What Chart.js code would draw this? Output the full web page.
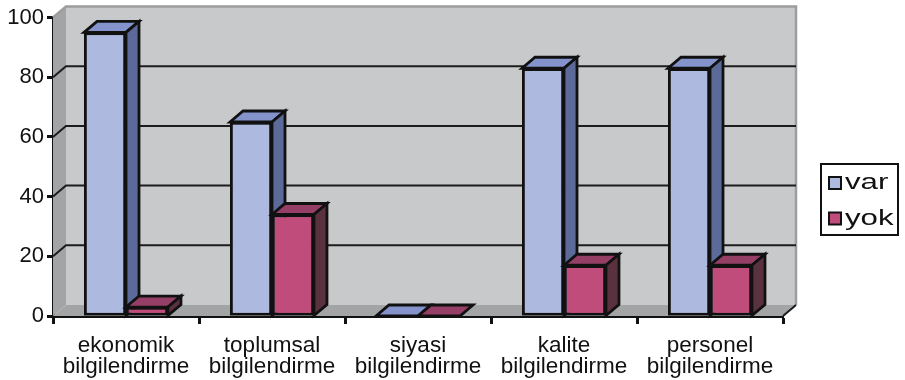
<!DOCTYPE html>
<html>
<head>
<meta charset="utf-8">
<script src="https://cdn.jsdelivr.net/npm/chart.js@4.4.1/dist/chart.umd.min.js"></script>
<style>
  html, body { margin: 0; padding: 0; background: #ffffff; }
  canvas { display: block; }
</style>
</head>
<body>
<canvas id="c" width="905" height="380"></canvas>
<script>
// Categories (two-line labels), series values and value-axis ticks
const categories = [
  ['ekonomik', 'bilgilendirme'],
  ['toplumsal', 'bilgilendirme'],
  ['siyasi', 'bilgilendirme'],
  ['kalite', 'bilgilendirme'],
  ['personel', 'bilgilendirme']
];
const seriesNames = ['var', 'yok'];
const varValues = [95, 65, 0, 83, 83];
const yokValues = [3, 34, 0, 17, 17];
const yTicks = [0, 20, 40, 60, 80, 100];

const FONT = '"Liberation Sans", Arial, Helvetica, sans-serif';
const DX = 13, DY = -11;           // depth offset of the 3D box
const palette = [
  { front: '#adb9de', top: '#8493cb', side: '#5c6a99' },
  { front: '#c04c7c', top: '#963f66', side: '#5a323f' }
];

function poly(ctx, pts, fill, stroke, lw) {
  ctx.beginPath();
  ctx.moveTo(pts[0][0], pts[0][1]);
  for (let i = 1; i < pts.length; i++) ctx.lineTo(pts[i][0], pts[i][1]);
  ctx.closePath();
  if (fill) { ctx.fillStyle = fill; ctx.fill(); }
  if (stroke) { ctx.strokeStyle = stroke; ctx.lineWidth = lw; ctx.lineJoin = 'miter'; ctx.stroke(); }
}

const box3d = {
  id: 'box3d',
  beforeDatasetsDraw(chart) {
    const { ctx, chartArea: a, scales: { y } } = chart;
    ctx.save();
    // back wall
    poly(ctx, [[a.left + DX, a.top + DY], [a.right + DX, a.top + DY], [a.right + DX, a.bottom + DY], [a.left + DX, a.bottom + DY]], '#c8c9cb');
    // side wall and floor
    poly(ctx, [[a.left, a.top], [a.left + DX, a.top + DY], [a.left + DX, a.bottom + DY], [a.left, a.bottom]], '#a3a4a6');
    poly(ctx, [[a.left, a.bottom], [a.right, a.bottom], [a.right + DX, a.bottom + DY], [a.left + DX, a.bottom + DY]], '#a3a4a6');
    // wall rim
    ctx.strokeStyle = '#9c9d9f';
    ctx.lineWidth = 2.5;
    ctx.beginPath();
    ctx.moveTo(a.left, a.top);
    ctx.lineTo(a.left + DX, a.top + DY);
    ctx.lineTo(a.right + DX, a.top + DY);
    ctx.lineTo(a.right + DX, a.bottom + DY);
    ctx.stroke();
    // grid lines across side wall and back wall
    ctx.strokeStyle = '#1c1c1c';
    ctx.lineWidth = 2;
    yTicks.forEach(v => {
      if (v === yTicks[0] || v === yTicks[yTicks.length - 1]) return;
      const py = y.getPixelForValue(v);
      ctx.beginPath();
      ctx.moveTo(a.left, py);
      ctx.lineTo(a.left + DX, py + DY);
      ctx.lineTo(a.right + DX, py + DY);
      ctx.stroke();
    });
    // floor right edge
    ctx.beginPath();
    ctx.moveTo(a.right, a.bottom);
    ctx.lineTo(a.right + DX, a.bottom + DY);
    ctx.stroke();
    ctx.restore();
  },
  afterDatasetsDraw(chart) {
    const { ctx } = chart;
    const metas = chart.data.datasets.map((d, i) => chart.getDatasetMeta(i));
    ctx.save();
    for (let i = 0; i < categories.length; i++) {
      metas.forEach((meta, di) => {
        const el = meta.data[i];
        const { x, y, base, width } = el.getProps(['x', 'y', 'base', 'width'], true);
        const x1 = x - width / 2, x2 = x + width / 2;
        const c = palette[di];
        el.draw(ctx);
        // top face
        poly(ctx, [[x1, y], [x1 + DX, y + DY], [x2 + DX, y + DY], [x2, y]], c.top, '#111', 2.8);
        // side face
        if (base - y > 0.5) {
          poly(ctx, [[x2, y], [x2 + DX, y + DY], [x2 + DX, base + DY], [x2, base]], c.side, '#111', 2.8);
        }
      });
    }
    ctx.restore();
  },
  afterDraw(chart) {
    const { ctx } = chart;
    ctx.save();
    ctx.strokeStyle = '#111';
    ctx.lineWidth = 2;
    ctx.strokeRect(821, 164, 77, 71);
    ctx.font = '22px ' + FONT;
    ctx.textBaseline = 'alphabetic';
    ctx.textAlign = 'left';
    chart.data.datasets.forEach((ds, i) => {
      const yTop = 177 + i * 35.5;
      ctx.fillStyle = palette[i].front;
      ctx.fillRect(829, yTop, 12, 12);
      ctx.lineWidth = 2;
      ctx.strokeStyle = '#111';
      ctx.strokeRect(829, yTop, 12, 12);
      ctx.fillStyle = '#111';
      ctx.save();
      ctx.translate(845, yTop + 12);
      ctx.scale(1.42, 1);
      ctx.fillText(ds.label, 0, 0);
      ctx.restore();
    });
    ctx.restore();
  }
};

new Chart(document.getElementById('c'), {
  type: 'bar',
  data: {
    labels: categories,
    datasets: [
      { label: seriesNames[0], data: varValues, backgroundColor: palette[0].front },
      { label: seriesNames[1], data: yokValues, backgroundColor: palette[1].front }
    ]
  },
  options: {
    responsive: false,
    animation: false,
    events: [],
    layout: { padding: { left: 0, top: 17.5, right: 122, bottom: 0 } },
    datasets: {
      bar: {
        categoryPercentage: 0.575,
        barPercentage: 1.0,
        borderColor: '#111',
        borderWidth: 2.8,
        borderSkipped: false
      }
    },
    plugins: { legend: { display: false }, tooltip: { enabled: false } },
    scales: {
      x: {
        z: 1,
        afterFit(scale) { scale.height = 64; },
        grid: { offset: true, drawOnChartArea: false, tickLength: 8, tickWidth: 3, tickColor: '#111' },
        border: { display: true, color: '#111', width: 3 },
        ticks: { color: '#111', padding: 11, font: { family: FONT, size: 22.5, lineHeight: 0.94 } }
      },
      y: {
        z: 1,
        min: 0,
        max: 100,
        afterFit(scale) { scale.width = 53; },
        afterBuildTicks(scale) { scale.ticks = yTicks.map(v => ({ value: v })); },
        grid: { drawOnChartArea: false, tickLength: 6, tickWidth: 3, tickColor: '#111' },
        border: { display: true, color: '#111', width: 3 },
        ticks: { color: '#111', padding: 3, font: { family: FONT, size: 22 } }
      }
    }
  },
  plugins: [box3d]
});
</script>
</body>
</html>
